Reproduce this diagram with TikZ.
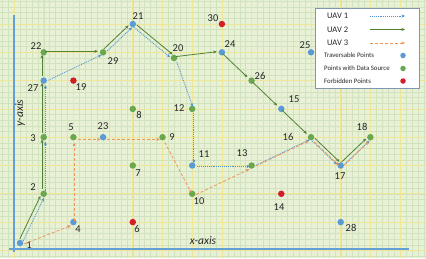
\documentclass[tikz,border=0pt]{standalone}
\usepackage{fontspec}
\setmainfont{Carlito}
\usetikzlibrary{arrows.meta}
\definecolor{bgc}{RGB}{232,241,214}
\definecolor{minorc}{RGB}{208,226,190}
\definecolor{majorc}{RGB}{238,230,150}
\definecolor{axisc}{RGB}{100,160,215}
\definecolor{ptblue}{RGB}{91,155,213}
\definecolor{ptgreen}{RGB}{106,168,79}
\definecolor{ptred}{RGB}{210,30,40}
\definecolor{lblue}{RGB}{80,148,212}
\definecolor{lgreen}{RGB}{84,130,53}
\definecolor{lorange}{RGB}{240,150,90}
\definecolor{legc}{RGB}{130,150,175}
\definecolor{txtc}{RGB}{38,38,38}
\begin{document}
\begin{tikzpicture}[x=1pt,y=-1pt,
  pt/.style={circle,inner sep=0pt,minimum size=6.5pt},
  bp/.style={pt,fill=ptblue},
  gp/.style={pt,fill=ptgreen},
  rp/.style={pt,fill=ptred},
  ghost/.style={circle,inner sep=0pt,minimum size=6.5pt},
  lab/.style={font=\fontsize{10.5}{12}\selectfont,text=txtc,inner sep=0pt},
  legbig/.style={font=\fontsize{8.5}{10}\selectfont,text=txtc,inner sep=0pt,anchor=west},
  legsmall/.style={font=\fontsize{6.8}{8}\selectfont,text=txtc,inner sep=0pt,anchor=west},
  tip/.style={-{Stealth[length=3.5pt,width=3pt]}},
  uavone/.style={draw=lblue,densely dotted,line width=0.9pt,tip},
  uavtwo/.style={draw=lgreen,line width=0.8pt,tip},
  uavthree/.style={draw=lorange,dash pattern=on 3pt off 2pt,line width=0.8pt,tip},
  minorline/.style={draw=minorc,line width=0.4pt},
  majorline/.style={draw=majorc,line width=0.7pt},
  axisline/.style={draw=axisc,line width=1.6pt}
]
\useasboundingbox (0,0) rectangle (426,258);
\fill[bgc] (0,0) rectangle (426,258);
% minor grid
\foreach \i in {-2,...,69} { \draw[minorline] ({14+5.94*\i},0) -- ({14+5.94*\i},258); }
\foreach \j in {-1,...,45} { \draw[minorline] (0,{250.4-5.66*\j}) -- (426,{250.4-5.66*\j}); }
% major grid
\foreach \i in {0,...,13} { \draw[majorline] ({14+29.7*\i},0) -- ({14+29.7*\i},258); }
\foreach \j in {0,...,8} { \draw[majorline] (0,{250.4-28.3*\j}) -- (426,{250.4-28.3*\j}); }
% axes
\coordinate (ytop) at (14,15);
\coordinate (ybot) at (14,252);
\coordinate (xl) at (9,249);
\coordinate (xr) at (409,249);
\draw[axisline] (ytop) -- (ybot);
\draw[axisline] (xl) -- (xr);
\node[font=\fontsize{11.5}{13}\selectfont\itshape,text=txtc,inner sep=0pt] (xlab) at (203,241) {x-axis};
\node[font=\fontsize{11.5}{13}\selectfont\itshape,text=txtc,inner sep=0pt,rotate=90] (ylab) at (20,113) {y-axis};

% points
\node[bp] (n1) at (20,243) {};
\node[gp] (n2) at (43.7,193.8) {};
\node[gp] (n3) at (43.7,137.2) {};
\node[bp] (n4) at (73.4,222.1) {};
\node[gp] (n5) at (73.4,137.2) {};
\node[rp] (n6) at (132.8,222.1) {};
\node[gp] (n7) at (132.8,165.5) {};
\node[gp] (n8) at (132.8,108.9) {};
\node[gp] (n9) at (162.5,137.2) {};
\node[gp] (n10) at (192.2,193.8) {};
\node[bp] (n11) at (192.2,165.5) {};
\node[gp] (n12) at (192.2,108.9) {};
\node[gp] (n13) at (251.6,165.5) {};
\node[rp] (n14) at (281.3,193.8) {};
\node[bp] (n15) at (281.3,108.9) {};
\node[gp] (n16) at (311,137.2) {};
\node[bp] (n17) at (340.7,165.5) {};
\node[gp] (n18) at (370.4,137.2) {};
\node[rp] (n19) at (73.4,80.6) {};
\node[gp] (n20) at (174,58) {};
\node[bp] (n21) at (132.8,24) {};
\node[gp] (n22) at (43.7,52.3) {};
\node[bp] (n23) at (103.1,137.2) {};
\node[bp] (n24) at (221.9,52.3) {};
\node[bp] (n25) at (311,52.3) {};
\node[gp] (n26) at (251.6,80.6) {};
\node[bp] (n27) at (43.7,80.6) {};
\node[bp] (n28) at (340.7,222.1) {};
\node[gp] (n29) at (103.1,52.3) {};
\node[rp] (n30) at (221.9,24) {};

% offset anchors for the three parallel routes
\foreach \k in {1,...,30} {
  \node[ghost] (b\k) at ([xshift=1.7pt,yshift=-1pt]n\k.center) {};
  \node[ghost] (g\k) at ([xshift=-1.7pt,yshift=1pt]n\k.center) {};
  \node[ghost] (o\k) at ([xshift=0.8pt,yshift=-2.2pt]n\k.center) {};
}
\foreach \k in {16,17,20,21} {
  \node[ghost] (c\k) at ([xshift=-1.3pt,yshift=-1.3pt]n\k.center) {};
  \node[ghost] (h\k) at ([xshift=1.3pt,yshift=1.3pt]n\k.center) {};
}

% labels
\node[lab] (t1) at (29,245) {1};
\node[lab] (t2) at (33,187) {2};
\node[lab] (t3) at (33,138) {3};
\node[lab] (t4) at (78,229) {4};
\node[lab] (t5) at (71,127) {5};
\node[lab] (t6) at (137,229) {6};
\node[lab] (t7) at (138,173) {7};
\node[lab] (t8) at (139,115) {8};
\node[lab] (t9) at (172,137) {9};
\node[lab] (t10) at (199,201) {10};
\node[lab] (t11) at (204,154) {11};
\node[lab] (t12) at (179,108) {12};
\node[lab] (t13) at (242,153) {13};
\node[lab] (t14) at (279,207) {14};
\node[lab] (t15) at (294,99) {15};
\node[lab] (t16) at (288,137) {16};
\node[lab] (t17) at (340,176) {17};
\node[lab] (t18) at (362,127) {18};
\node[lab] (t19) at (81,87) {19};
\node[lab] (t20) at (178,48) {20};
\node[lab] (t21) at (138,16) {21};
\node[lab] (t22) at (36,46) {22};
\node[lab] (t23) at (103,126) {23};
\node[lab] (t24) at (230,44) {24};
\node[lab] (t25) at (305,45) {25};
\node[lab] (t26) at (260,76) {26};
\node[lab] (t27) at (33,88) {27};
\node[lab] (t28) at (351,228) {28};
\node[lab] (t29) at (113,61) {29};
\node[lab] (t30) at (213,18) {30};

% UAV 2 (green)
\draw[uavtwo] (g1) edge (g2) (g2) edge (g3) (g3) edge (g27) (g27) edge (g22)
  (g22) edge (g29) (g29) edge (g21) (h21) edge (h20) (g20) edge (g24)
  (g24) edge (g26) (g26) edge (g15) (g15) edge (g16) (h16) edge (h17) (g17) edge (g18);
% UAV 1 (blue)
\draw[uavone] (b1) edge (b2) (b2) edge (b3) (b3) edge (b27) (b27) edge (b29)
  (b29) edge (b21) (c21) edge (c20) (b20) edge (b12) (b12) edge (b11)
  (b11) edge (b13) (b13) edge (b16) (c16) edge (c17) (b17) edge (b18);
% UAV 3 (orange)
\draw[uavthree] (o1) edge (o4) (o4) edge (o5) (o5) edge (o23) (o23) edge (o9)
  (o9) edge (o10) (o10) edge (o13) (o13) edge (o16) (o16) edge (o17) (o17) edge (o18);

% legend
\node[draw=legc,fill=white,line width=1pt,minimum width=104pt,minimum height=80pt,inner sep=0pt] (legend) at (367,48) {};
\node[legbig] (lu1) at (327,16) {UAV 1};
\node[legbig] (lu2) at (327,29.5) {UAV 2};
\node[legbig] (lu3) at (327,43) {UAV 3};
\coordinate (a1s) at (370,16); \coordinate (a1e) at (405,16);
\coordinate (a2s) at (370,29.5); \coordinate (a2e) at (405,29.5);
\coordinate (a3s) at (370,43); \coordinate (a3e) at (405,43);
\draw[uavone] (a1s) -- (a1e);
\draw[uavtwo] (a2s) -- (a2e);
\draw[uavthree] (a3s) -- (a3e);
\node[legsmall] (ls1) at (324,55.5) {Traversable Points};
\node[legsmall] (ls2) at (324,68.5) {Points with Data Source};
\node[legsmall] (ls3) at (324,81) {Forbidden Points};
\node[bp,minimum size=5.5pt] (ld1) at (403,55.5) {};
\node[gp,minimum size=5.5pt] (ld2) at (403,68.5) {};
\node[rp,minimum size=5.5pt] (ld3) at (403,81) {};
\end{tikzpicture}
\end{document}
